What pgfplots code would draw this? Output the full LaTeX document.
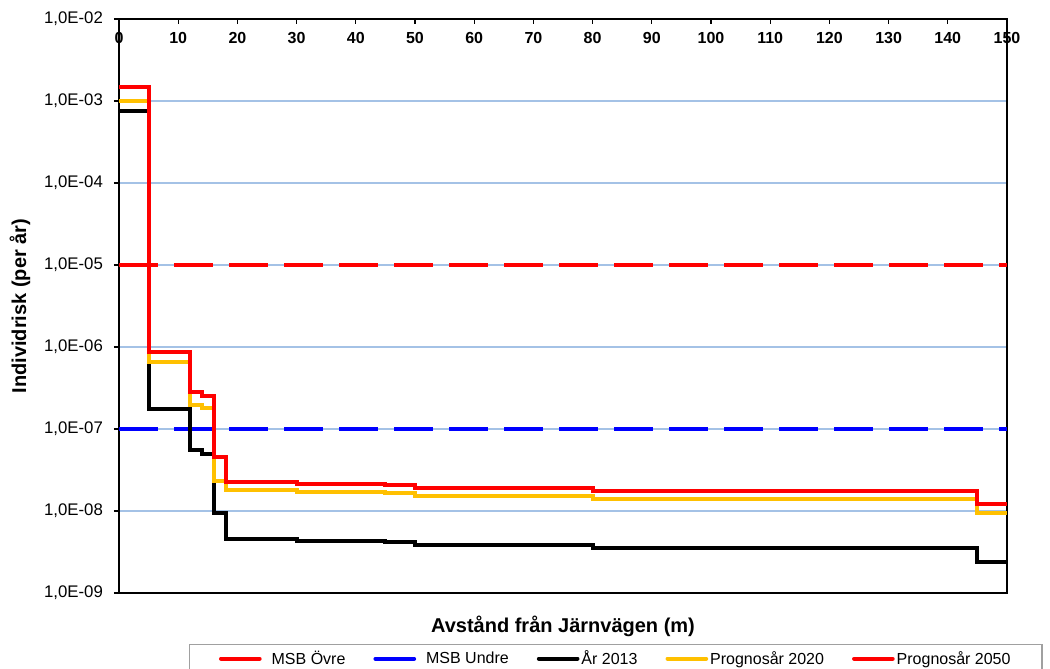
\documentclass[border=0pt]{standalone}
\usepackage{fontspec}
\setmainfont{Liberation Sans}
\usepackage{pgfplots}
\pgfplotsset{compat=1.18}
\definecolor{gridblue}{RGB}{164,194,230}
\definecolor{gold}{RGB}{255,192,0}
\definecolor{legendgray}{RGB}{160,160,160}

\begin{document}
\begin{tikzpicture}
\begin{semilogyaxis}[
  name=ax,
  scale only axis,
  width=666pt, height=430.5pt,
  xmin=0, xmax=150, ymin=1e-9, ymax=1e-2,
  axis line style={line width=1pt, black},
  xtick={0,10,20,30,40,50,60,70,80,90,100,110,120,130,140,150},
  xticklabels={0,10,20,30,40,50,60,70,80,90,100,110,120,130,140,150},
  xtick pos=upper, xticklabel pos=upper,
  xtick align=inside, ytick align=outside,
  major tick length=3.75pt,
  tick style={black, line width=0.8pt},
  xticklabel style={font=\fontsize{12}{14}\selectfont\bfseries, anchor=north, yshift=-6.5pt},
  ytick={1e-9,1e-8,1e-7,1e-6,1e-5,1e-4,1e-3,1e-2},
  yticklabels={{1,0E-09},{1,0E-08},{1,0E-07},{1,0E-06},{1,0E-05},{1,0E-04},{1,0E-03},{1,0E-02}},
  ytick pos=left,
  yminorticks=false,
  yticklabel style={font=\fontsize{12.6}{15}\selectfont, xshift=-4.8pt},
  ymajorgrids,
  major grid style={gridblue, line width=0.8pt},
  xlabel={Avstånd från Järnvägen (m)},
  xlabel style={font=\fontsize{15}{18}\selectfont\bfseries, at={(axis description cs:0.5,0)}, anchor=base, yshift=-29.25pt},
  ylabel={Individrisk (per år)},
  ylabel style={font=\fontsize{15}{18}\selectfont\bfseries, at={(axis description cs:0,0.5)}, anchor=center, rotate=0, yshift=74.25pt},
  legend columns=5,
  legend image code/.code={\draw[#1, solid, line cap=round] (0pt,0pt) -- (29pt,0pt);},
  legend style={
    at={(axis description cs:0,0)}, anchor=north west,
    xshift=52.5pt, yshift=-38.25pt,
    draw=legendgray, line width=1pt,
    font=\fontsize{12}{14}\selectfont,
    inner xsep=22pt, inner ysep=2.5pt,
    nodes={inner xsep=1.5pt},
    column sep=0pt,
    /tikz/every even column/.append style={column sep=19.5pt},
  },
]
% MSB limits
\addplot[red, line width=3pt, dash pattern=on 29.25pt off 12pt]
  coordinates {(0,1e-5) (150,1e-5)};
\addlegendentry{\hspace{6pt}MSB Övre}
\addplot[blue, line width=3pt, dash pattern=on 29.25pt off 12pt]
  coordinates {(0,1e-7) (150,1e-7)};
\addlegendentry{\hspace{6pt}MSB Undre}
% Individual risk, step curves
\addplot[black, line width=3pt, const plot] coordinates {
  (0,7.6e-4) (5,1.74e-7) (12,5.5e-8) (14,5.0e-8) (16,9.5e-9) (18,4.6e-9)
  (30,4.27e-9) (45,4.15e-9) (50,3.81e-9) (80,3.54e-9) (145,2.41e-9) (150,2.41e-9)};
\addlegendentry{År 2013}
\addplot[gold, line width=3pt, const plot] coordinates {
  (0,1.0e-3) (5,6.6e-7) (12,1.96e-7) (14,1.79e-7) (16,2.3e-8) (18,1.8e-8)
  (30,1.69e-8) (45,1.64e-8) (50,1.52e-8) (80,1.40e-8) (145,9.5e-9) (150,9.5e-9)};
\addlegendentry{Prognosår 2020}
\addplot[red, line width=3pt, const plot] coordinates {
  (0,1.5e-3) (5,8.8e-7) (12,2.8e-7) (14,2.5e-7) (16,4.6e-8) (18,2.28e-8)
  (30,2.13e-8) (45,2.07e-8) (50,1.89e-8) (80,1.77e-8) (145,1.21e-8) (150,1.21e-8)};
\addlegendentry{Prognosår 2050}
\end{semilogyaxis}
\pgfresetboundingbox
\path[use as bounding box] ([xshift=-89.25pt,yshift=-56.25pt]ax.south west)
  rectangle ([xshift=32.25pt,yshift=14.25pt]ax.north east);
\end{tikzpicture}
\end{document}
